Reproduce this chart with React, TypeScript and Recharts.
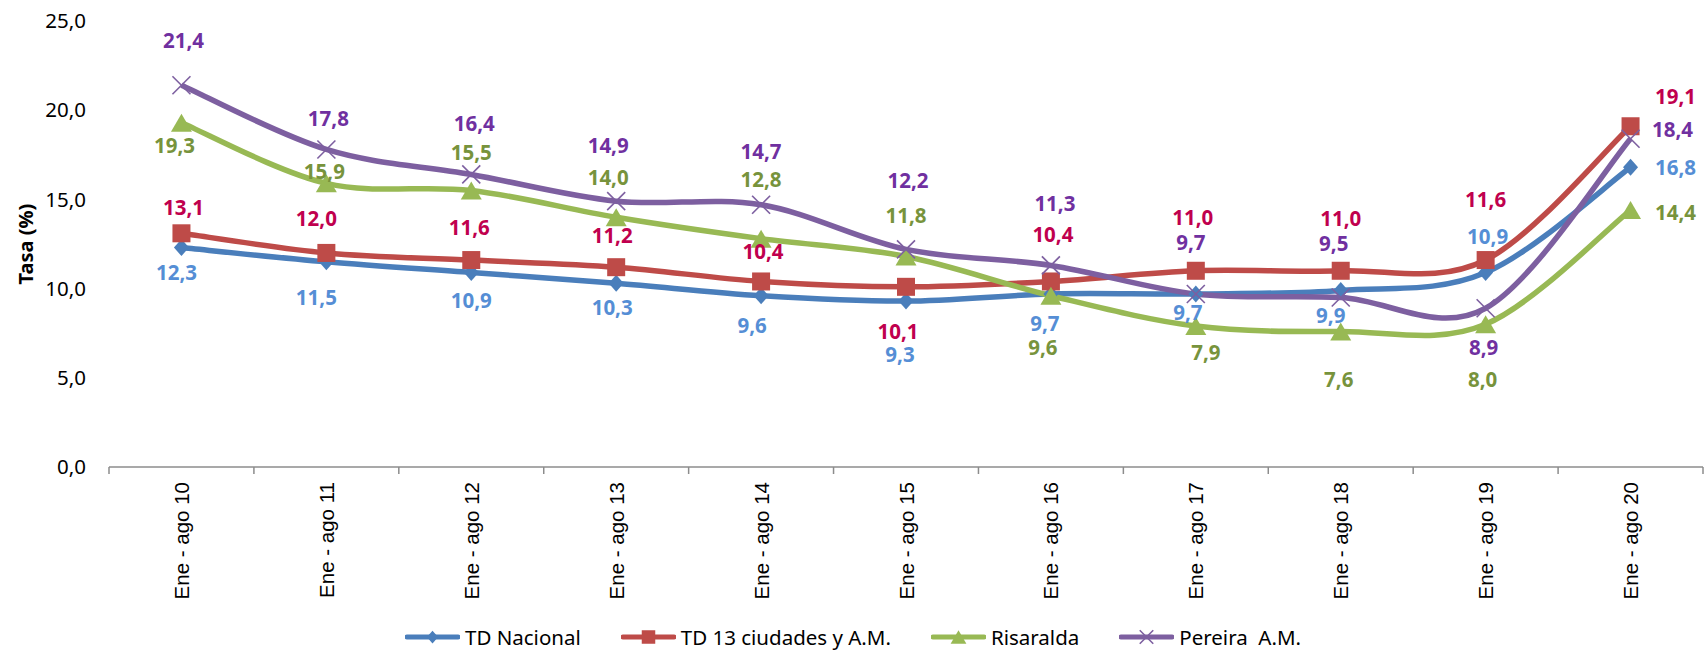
import React from "react";
import {
  LineChart,
  Line,
  XAxis,
  YAxis,
  Legend,
  LabelList,
  Label,
} from "recharts";

const categories = [
  "Ene - ago 10",
  "Ene - ago 11",
  "Ene - ago 12",
  "Ene - ago 13",
  "Ene - ago 14",
  "Ene - ago 15",
  "Ene - ago 16",
  "Ene - ago 17",
  "Ene - ago 18",
  "Ene - ago 19",
  "Ene - ago 20",
];
const tdNacional = [12.3, 11.5, 10.9, 10.3, 9.6, 9.3, 9.7, 9.7, 9.9, 10.9, 16.8];
const td13 = [13.1, 12.0, 11.6, 11.2, 10.4, 10.1, 10.4, 11.0, 11.0, 11.6, 19.1];
const risaralda = [19.3, 15.9, 15.5, 14.0, 12.8, 11.8, 9.6, 7.9, 7.6, 8.0, 14.4];
const pereira = [21.4, 17.8, 16.4, 14.9, 14.7, 12.2, 11.3, 9.7, 9.5, 8.9, 18.4];
const yTicks = [0, 5, 10, 15, 20, 25];

// label nudges (px) relative to each point, Excel-style placement
const labelNudge = {
  nac: {
    dx: [-5, -10, 0, -4, -9, -6, -6, -8, -10, 2, 45],
    dy: [24, 35, 27, 24, 29, 53, 29, 18, 25, -37, 0],
  },
  c13: {
    dx: [2, -10, -2, -4, 2, -8, 2, -3, 0, 0, 45],
    dy: [-26, -35, -33, -32, -30, 44, -47, -54, -53, -61, -30],
  },
  ris: {
    dx: [-7, -2, 0, -8, 0, 0, -8, 10, -2, -3, 45],
    dy: [22, -12, -38, -40, -60, -41, 51, 26, 48, 55, 2],
  },
  per: {
    dx: [2, 2, 3, -8, 0, 2, 4, -5, -7, -2, 42],
    dy: [-45, -31, -51, -56, -54, -69, -62, -52, -55, 39, -10],
  },
};

const data = categories.map((cat, i) => ({
  cat,
  nac: tdNacional[i],
  c13: td13[i],
  ris: risaralda[i],
  per: pereira[i],
}));

const W = 1704;
const H = 650;
const PLOT_LEFT = 109;
const PLOT_RIGHT = 1703;
const BAND = (PLOT_RIGHT - PLOT_LEFT) / categories.length;
const FONT = "'Noto Sans', sans-serif";

const fmt = (v: number) => v.toFixed(1).replace(".", ",");

// smooth curve like Excel's "smoothed line" (catmull-rom through points)
const excelSmooth = (context: any) => {
  let pts: number[][] = [];
  return {
    areaStart() {},
    areaEnd() {},
    lineStart() {
      pts = [];
    },
    point(x: number, y: number) {
      pts.push([+x, +y]);
    },
    lineEnd() {
      if (!pts.length) return;
      context.moveTo(pts[0][0], pts[0][1]);
      for (let i = 0; i < pts.length - 1; i++) {
        const p0 = pts[i - 1] || pts[i];
        const p1 = pts[i];
        const p2 = pts[i + 1];
        const p3 = pts[i + 2] || p2;
        context.bezierCurveTo(
          p1[0] + (p2[0] - p0[0]) / 6,
          p1[1] + (p2[1] - p0[1]) / 6,
          p2[0] - (p3[0] - p1[0]) / 6,
          p2[1] - (p3[1] - p1[1]) / 6,
          p2[0],
          p2[1]
        );
      }
    },
  };
};

type Shape = "diamond" | "square" | "triangle" | "x";

const Marker = ({ cx, cy, shape, color, s = 1 }: any) => {
  if (cx == null || cy == null) return null;
  if (shape === "diamond") {
    const w = 7.5 * s;
    const h = 8.5 * s;
    return (
      <polygon
        points={`${cx},${cy - h} ${cx + w},${cy} ${cx},${cy + h} ${cx - w},${cy}`}
        fill={color}
      />
    );
  }
  if (shape === "square") {
    const r = 9 * s;
    return <rect x={cx - r} y={cy - r} width={2 * r} height={2 * r} fill={color} />;
  }
  if (shape === "triangle") {
    const w = 10.5 * s;
    const h = 9 * s;
    return (
      <polygon
        points={`${cx},${cy - h} ${cx + w},${cy + h} ${cx - w},${cy + h}`}
        fill={color}
      />
    );
  }
  const r = 9 * s;
  return (
    <g stroke={color} strokeWidth={1.6}>
      <line x1={cx - r} y1={cy - r} x2={cx + r} y2={cy + r} />
      <line x1={cx - r} y1={cy + r} x2={cx + r} y2={cy - r} />
    </g>
  );
};

const makeDot = (shape: Shape, color: string) => (props: any) => (
  <Marker
    key={`dot-${shape}-${props.index}`}
    cx={props.cx}
    cy={props.cy}
    shape={shape}
    color={color}
  />
);

const makeLabel = (key: keyof typeof labelNudge, color: string) => (props: any) => {
  const vb = props.viewBox || {};
  const x = props.x ?? vb.x;
  const y = props.y ?? vb.y;
  const i = props.index ?? 0;
  if (x == null || y == null || props.value == null) return null;
  return (
    <text
      x={x + labelNudge[key].dx[i]}
      y={y + labelNudge[key].dy[i]}
      textAnchor="middle"
      dominantBaseline="central"
      fill={color}
      fontFamily={FONT}
      fontSize={20.5}
      fontWeight="bold"
    >
      {fmt(Number(props.value))}
    </text>
  );
};

const XTick = (props: any) => {
  const { x, y, payload, index } = props;
  const left = x - BAND / 2;
  return (
    <g>
      <line x1={left} y1={y} x2={left} y2={y + 7} stroke="#8C8C8C" strokeWidth={1.5} />
      {index === categories.length - 1 && (
        <line x1={x + BAND / 2} y1={y} x2={x + BAND / 2} y2={y + 7} stroke="#8C8C8C" strokeWidth={1.5} />
      )}
      <text
        x={x}
        y={y + 15}
        transform={`rotate(-90 ${x} ${y + 15})`}
        textAnchor="end"
        dominantBaseline="central"
        fontFamily="'Liberation Sans', Arial, sans-serif"
        fontSize={20.5}
        fill="#000"
      >
        {payload.value}
      </text>
    </g>
  );
};

const series = [
  { key: "nac", name: "TD Nacional", color: "#4A7EBB", label: "#558ED5", shape: "diamond" as Shape },
  { key: "c13", name: "TD 13 ciudades y A.M.", color: "#BE4B48", label: "#C0004E", shape: "square" as Shape },
  { key: "ris", name: "Risaralda", color: "#98B954", label: "#77933C", shape: "triangle" as Shape },
  { key: "per", name: "Pereira  A.M.", color: "#7D5FA0", label: "#7030A0", shape: "x" as Shape },
];

const LegendContent = () => (
  <div style={{ height: 36, position: "relative" }}>
    <div
      style={{
        position: "absolute",
        top: 11,
        left: 405,
        display: "flex",
        alignItems: "center",
        height: 24,
        lineHeight: "24px",
        gap: 40,
        fontFamily: FONT,
        fontSize: 20.5,
        color: "#000",
        whiteSpace: "pre",
      }}
    >
      {series.map((s) => (
        <div key={s.key} style={{ display: "flex", alignItems: "center" }}>
          <svg width={55} height={22} style={{ marginRight: 5 }}>
            <line x1={2} y1={11} x2={53} y2={11} stroke={s.color} strokeWidth={5} strokeLinecap="round" />
            <Marker cx={27.5} cy={11} shape={s.shape} color={s.color} s={0.75} />
          </svg>
          <span>{s.name}</span>
        </div>
      ))}
    </div>
  </div>
);

export default function App() {
  return (
    <div style={{ position: "absolute", left: 0, top: 0, width: W, height: H, background: "#fff" }}>
      <LineChart
        width={W}
        height={H}
        data={data}
        margin={{ top: 21, right: W - PLOT_RIGHT, left: 0, bottom: 0 }}
      >
        <XAxis
          dataKey="cat"
          height={147}
          interval={0}
          padding={{ left: BAND / 2, right: BAND / 2 }}
          tickSize={0}
          tickMargin={0}
          tickLine={false}
          axisLine={{ stroke: "#8C8C8C", strokeWidth: 1.5 }}
          tick={<XTick />}
        />
        <YAxis
          width={PLOT_LEFT}
          domain={[0, 25]}
          ticks={yTicks}
          tickFormatter={fmt}
          axisLine={false}
          tickLine={false}
          tickSize={0}
          tickMargin={23}
          tick={{ fontFamily: FONT, fontSize: 20.5, fill: "#000" }}
        >
          <Label
            content={() => (
              <text
                x={25}
                y={244}
                transform="rotate(-90 25 244)"
                textAnchor="middle"
                dominantBaseline="central"
                fontFamily={FONT}
                fontSize={20}
                fontWeight="bold"
                fill="#000"
              >
                Tasa (%)
              </text>
            )}
          />
        </YAxis>
        <Legend verticalAlign="bottom" content={<LegendContent />} />
        {series.map((s) => (
          <Line
            key={s.key}
            dataKey={s.key}
            name={s.name}
            type={excelSmooth as any}
            stroke={s.color}
            strokeWidth={5.5}
            dot={makeDot(s.shape, s.color)}
            activeDot={false}
            isAnimationActive={false}
          >
            <LabelList dataKey={s.key} content={makeLabel(s.key as any, s.label)} />
          </Line>
        ))}
      </LineChart>
    </div>
  );
}
